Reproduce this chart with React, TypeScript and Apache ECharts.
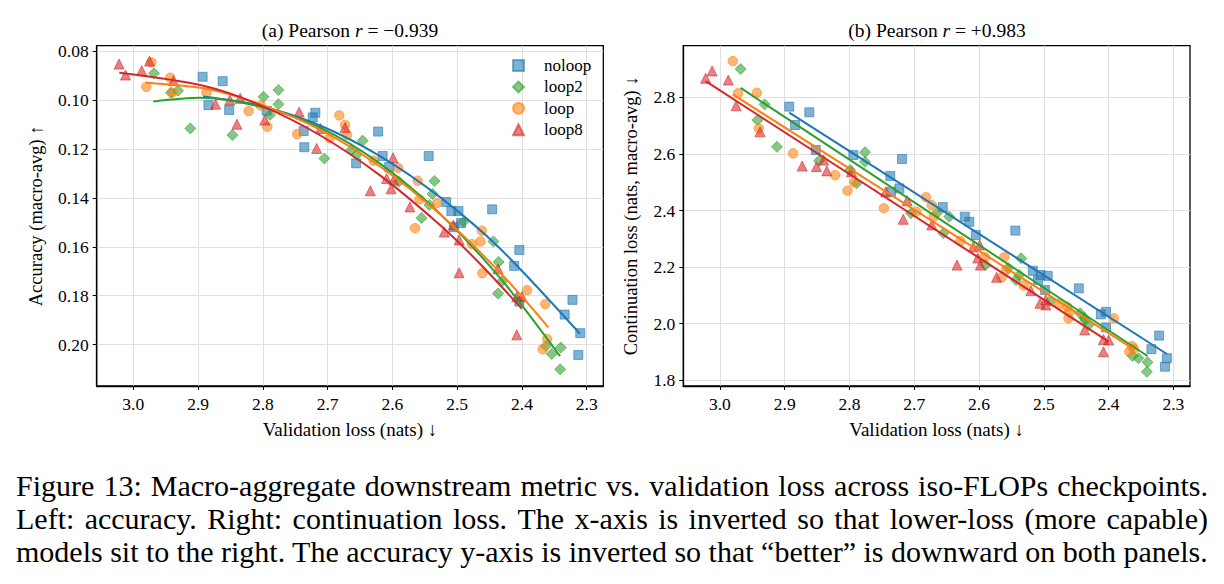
import React, { useEffect, useRef } from "react";
import * as echarts from "echarts";

// Axis ticks
const TICKS_VAL = [3.0, 2.9, 2.8, 2.7, 2.6, 2.5, 2.4, 2.3];
const TICKS_ACC = [0.08, 0.1, 0.12, 0.14, 0.16, 0.18, 0.2];
const TICKS_CONT = [1.8, 2.0, 2.2, 2.4, 2.6, 2.8];

// noloop checkpoints: validation loss, macro accuracy, continuation loss
const NOLOOP_VAL = [2.893, 2.862, 2.884, 2.852, 2.794, 2.719, 2.723, 2.737, 2.736, 2.656, 2.622, 2.615, 2.605, 2.544, 2.517, 2.509, 2.498, 2.505, 2.494, 2.446, 2.404, 2.412, 2.404, 2.322, 2.334, 2.31, 2.313];
const NOLOOP_ACC = [0.0905, 0.0923, 0.1021, 0.1041, 0.1044, 0.1052, 0.1071, 0.1127, 0.1193, 0.1259, 0.1129, 0.1229, 0.1274, 0.1229, 0.1417, 0.1454, 0.1454, 0.152, 0.1503, 0.1447, 0.1613, 0.1678, 0.1824, 0.1817, 0.1877, 0.1953, 0.2042];
const NOLOOP_CONT = [2.767, 2.747, 2.702, 2.614, 2.596, 2.582, 2.478, 2.522, 2.466, 2.412, 2.378, 2.36, 2.313, 2.329, 2.187, 2.154, 2.119, 2.172, 2.169, 2.125, 2.042, 2.033, 1.987, 1.958, 1.91, 1.878, 1.848];

// loop2 checkpoints
const LOOP2_VAL = [2.968, 2.931, 2.942, 2.912, 2.847, 2.799, 2.776, 2.776, 2.789, 2.705, 2.664, 2.655, 2.646, 2.59, 2.535, 2.538, 2.543, 2.555, 2.49, 2.444, 2.436, 2.431, 2.437, 2.363, 2.354, 2.34, 2.341];
const LOOP2_ACC = [0.0891, 0.0962, 0.097, 0.1116, 0.1143, 0.0987, 0.0959, 0.1017, 0.1061, 0.1239, 0.1206, 0.1223, 0.1166, 0.1334, 0.1331, 0.1384, 0.1429, 0.1482, 0.1497, 0.1578, 0.1662, 0.1742, 0.1791, 0.2005, 0.2038, 0.2012, 0.2101];
const LOOP2_CONT = [2.9, 2.775, 2.72, 2.625, 2.576, 2.543, 2.606, 2.572, 2.496, 2.39, 2.393, 2.32, 2.378, 2.207, 2.231, 2.172, 2.154, 2.197, 2.081, 2.037, 2.013, 1.995, 2.02, 1.886, 1.878, 1.864, 1.83];

// loop checkpoints
const LOOP_VAL = [2.972, 2.98, 2.943, 2.94, 2.887, 2.822, 2.803, 2.793, 2.747, 2.697, 2.682, 2.673, 2.67, 2.629, 2.591, 2.561, 2.558, 2.565, 2.531, 2.477, 2.464, 2.462, 2.461, 2.392, 2.364, 2.361, 2.368];
const LOOP_ACC = [0.0846, 0.0946, 0.0909, 0.097, 0.097, 0.1045, 0.1023, 0.1109, 0.1139, 0.1156, 0.1063, 0.1102, 0.1143, 0.1248, 0.1277, 0.133, 0.1406, 0.1524, 0.1422, 0.1589, 0.1578, 0.1534, 0.1708, 0.1777, 0.1834, 0.1977, 0.2019];
const LOOP_CONT = [2.814, 2.928, 2.816, 2.69, 2.602, 2.525, 2.47, 2.5, 2.408, 2.396, 2.447, 2.419, 2.378, 2.292, 2.235, 2.235, 2.19, 2.164, 2.135, 2.07, 2.06, 2.019, 2.041, 2.019, 1.921, 1.911, 1.901];

// loop8 checkpoints
const LOOP8_VAL = [3.022, 3.012, 2.987, 2.975, 2.938, 2.873, 2.851, 2.835, 2.84, 2.797, 2.744, 2.711, 2.717, 2.673, 2.634, 2.609, 2.599, 2.598, 2.602, 2.573, 2.506, 2.52, 2.497, 2.497, 2.437, 2.408, 2.4, 2.408];
const LOOP8_ACC = [0.0853, 0.0898, 0.088, 0.0841, 0.0921, 0.1017, 0.1, 0.0993, 0.1099, 0.1082, 0.1049, 0.1116, 0.1198, 0.1112, 0.1371, 0.1321, 0.1236, 0.1327, 0.1363, 0.1437, 0.1511, 0.154, 0.1572, 0.1706, 0.169, 0.1804, 0.1804, 0.196];
const LOOP8_CONT = [2.867, 2.893, 2.861, 2.77, 2.678, 2.557, 2.555, 2.54, 2.578, 2.537, 2.466, 2.435, 2.369, 2.349, 2.207, 2.271, 2.278, 2.207, 2.232, 2.164, 2.072, 2.117, 2.066, 2.084, 1.978, 1.944, 1.942, 1.901];

// Quadratic trend curves for accuracy, sampled along each curve
const NOLOOP_ACC_FIT = [[2.8924, 0.0986], [2.8044, 0.1023], [2.7117, 0.1104], [2.6191, 0.1229], [2.5265, 0.1397], [2.4339, 0.1607], [2.3103, 0.1956]];
const LOOP2_ACC_FIT = [[2.9691, 0.1006], [2.897, 0.0991], [2.8044, 0.1027], [2.7117, 0.1113], [2.6191, 0.126], [2.5265, 0.1465], [2.4339, 0.1727], [2.3412, 0.2047]];
const LOOP_ACC_FIT = [[2.9804, 0.0929], [2.8867, 0.0954], [2.8044, 0.1017], [2.7117, 0.1121], [2.6191, 0.1272], [2.5265, 0.1467], [2.4339, 0.1705], [2.3593, 0.1929]];
const LOOP8_ACC_FIT = [[3.0216, 0.0889], [2.8919, 0.0942], [2.8044, 0.1021], [2.7117, 0.1144], [2.6191, 0.1308], [2.5265, 0.1511], [2.4648, 0.1669], [2.4003, 0.1853]];

// Linear trend lines for continuation loss (end points)
const NOLOOP_CONT_FIT = [[2.893, 2.746], [2.31, 1.893]];
const LOOP2_CONT_FIT = [[2.968, 2.833], [2.34, 1.886]];
const LOOP_CONT_FIT = [[2.98, 2.81], [2.361, 1.91]];
const LOOP8_CONT_FIT = [[3.022, 2.857], [2.4, 1.937]];

const NAMES = ["noloop", "loop2", "loop", "loop8"];
const COLORS = ["#1f77b4", "#2ca02c", "#ff7f0e", "#d62728"];
const FILLS = ["rgba(31,119,180,0.72)", "rgba(44,160,44,0.72)", "rgba(255,127,14,0.72)", "rgba(214,39,40,0.72)"];
const SYMBOLS = ["rect", "diamond", "circle", "triangle"];
const SIZES = [9, 11, 9.5, 10];

const TITLE_A = "(a) Pearson {i|r} = \u22120.939";
const TITLE_B = "(b) Pearson {i|r} = +0.983";
const CAPTION = [
  "Figure 13: Macro-aggregate downstream metric vs. validation loss across iso-FLOPs checkpoints.",
  "Left: accuracy. Right: continuation loss. The x-axis is inverted so that lower-loss (more capable)",
  "models sit to the right. The accuracy y-axis is inverted so that \u201cbetter\u201d is downward on both panels.",
];

const FONT = "Liberation Serif";
const CAPTION_SIZE = 30;

const zip = (xs: number[], ys: number[]) => xs.map((x, i) => [x, ys[i]]);

// Lays out one caption line word by word so that it fills the given width.
function captionLine(line: string, x0: number, width: number, y: number, justify: boolean) {
  const font = `${CAPTION_SIZE}px 'Liberation Serif'`;
  const words = line.split(" ");
  const ctx = document.createElement("canvas").getContext("2d");
  const style = { fontFamily: FONT, fontSize: CAPTION_SIZE, fill: "#000", verticalAlign: "middle" as const };
  if (!ctx || !justify) {
    return [{ type: "text", x: x0, y, style: { ...style, text: line } }];
  }
  ctx.font = font;
  const widths = words.map((w) => ctx.measureText(w).width);
  const total = widths.reduce((a, b) => a + b, 0);
  const gap = (width - total) / (words.length - 1);
  let x = x0;
  return words.map((w, i) => {
    const el = { type: "text", x, y, style: { ...style, text: w } };
    x += widths[i] + gap;
    return el;
  });
}

export default function App() {
  const ref = useRef<HTMLDivElement>(null);

  useEffect(() => {
    if (!ref.current) return;
    const chart = echarts.init(ref.current, undefined, { renderer: "svg" });

    const vals = [NOLOOP_VAL, LOOP2_VAL, LOOP_VAL, LOOP8_VAL];
    const accs = [NOLOOP_ACC, LOOP2_ACC, LOOP_ACC, LOOP8_ACC];
    const conts = [NOLOOP_CONT, LOOP2_CONT, LOOP_CONT, LOOP8_CONT];
    const accFits = [NOLOOP_ACC_FIT, LOOP2_ACC_FIT, LOOP_ACC_FIT, LOOP8_ACC_FIT];
    const contFits = [NOLOOP_CONT_FIT, LOOP2_CONT_FIT, LOOP_CONT_FIT, LOOP8_CONT_FIT];

    const series: any[] = [];
    NAMES.forEach((name, k) => {
      const marker = {
        type: "scatter",
        name,
        symbol: SYMBOLS[k],
        symbolSize: SIZES[k],
        itemStyle: { color: FILLS[k], borderColor: FILLS[k], borderWidth: 1 },
        emphasis: { disabled: true },
      };
      const fitLine = {
        type: "line",
        name: name + " fit",
        symbol: "none",
        lineStyle: { color: COLORS[k], width: 2 },
        itemStyle: { color: COLORS[k] },
        emphasis: { disabled: true },
        z: 3,
      };
      series.push({ ...marker, xAxisIndex: 0, yAxisIndex: 0, data: zip(vals[k], accs[k]) });
      series.push({ ...fitLine, xAxisIndex: 0, yAxisIndex: 0, smooth: 0.3, data: accFits[k] });
      series.push({ ...marker, xAxisIndex: 1, yAxisIndex: 1, data: zip(vals[k], conts[k]) });
      series.push({ ...fitLine, xAxisIndex: 1, yAxisIndex: 1, data: contFits[k] });
    });

    const tickText = { color: "#000", fontFamily: FONT, fontSize: 17.5 };
    const nameText = { color: "#000", fontFamily: FONT, fontSize: 19 };
    const yNameText = { color: "#000", fontFamily: FONT, fontSize: 18.5 };
    const frame = { show: true, lineStyle: { color: "#000", width: 1.3 } };
    const tick = (values: number[]) => ({
      show: true,
      customValues: values,
      length: 4,
      lineStyle: { color: "#000", width: 1 },
    });
    const split = { show: true, lineStyle: { color: "#e0e0e0", width: 1 } };

    const xAxis = (gridIndex: number) => ({
      gridIndex,
      type: "value",
      inverse: true,
      min: 2.2744,
      max: 3.0565,
      axisLine: { ...frame, onZero: false },
      axisTick: tick(TICKS_VAL),
      axisLabel: { ...tickText, customValues: TICKS_VAL, margin: 9, formatter: (v: number) => v.toFixed(1) },
      splitLine: split,
      name: "Validation loss (nats) \u2193",
      nameLocation: "middle",
      nameGap: 34,
      nameTextStyle: nameText,
    });

    const titleStyle = (text: string) => ({
      text,
      rich: { i: { fontStyle: "italic", fontFamily: FONT, fontSize: 19.5, fill: "#000" } },
      fontFamily: FONT,
      fontSize: 19.5,
      fill: "#000",
      align: "center",
      verticalAlign: "middle",
    });

    const caption = [
      ...captionLine(CAPTION[0], 16, 1192, 485, true),
      ...captionLine(CAPTION[1], 16, 1192, 518, true),
      ...captionLine(CAPTION[2], 16, 1197, 551, false),
    ];

    const option: any = {
      animation: false,
      backgroundColor: "#fff",
      grid: [
        { left: 96.7, top: 45.7, width: 506.6, height: 340.3, show: true, borderColor: "#000", borderWidth: 1.3, backgroundColor: "transparent" },
        { left: 683.3, top: 45.7, width: 506.7, height: 340.3, show: true, borderColor: "#000", borderWidth: 1.3, backgroundColor: "transparent" },
      ],
      xAxis: [xAxis(0), xAxis(1)],
      yAxis: [
        {
          gridIndex: 0,
          type: "value",
          inverse: true,
          min: 0.0778,
          max: 0.2169,
          axisLine: { ...frame, onZero: false },
          axisTick: tick(TICKS_ACC),
          axisLabel: { ...tickText, customValues: TICKS_ACC, margin: 8, formatter: (v: number) => v.toFixed(2) },
          splitLine: split,
          name: "Accuracy (macro-avg) \u2191",
          nameLocation: "middle",
          nameGap: 51.5,
          nameTextStyle: yNameText,
        },
        {
          gridIndex: 1,
          type: "value",
          min: 1.7799,
          max: 2.9823,
          axisLine: { ...frame, onZero: false },
          axisTick: tick(TICKS_CONT),
          axisLabel: { ...tickText, customValues: TICKS_CONT, margin: 8, formatter: (v: number) => v.toFixed(1) },
          splitLine: split,
          name: "Continuation loss (nats, macro-avg) \u2193",
          nameLocation: "middle",
          nameGap: 42.5,
          nameTextStyle: yNameText,
        },
      ],
      legend: {
        data: NAMES.map((n, k) => ({ name: n, icon: SYMBOLS[k] })),
        orient: "vertical",
        left: 512,
        top: 57,
        padding: 0,
        itemWidth: 11,
        itemHeight: 11,
        itemGap: 4.4,
        selectedMode: false,
        textStyle: { color: "#000", fontFamily: FONT, fontSize: 17, lineHeight: 14, padding: [0, 0, 0, 15] },
      },
      graphic: [
        { type: "text", x: 350, y: 30, style: titleStyle(TITLE_A) },
        { type: "text", x: 937, y: 30, style: titleStyle(TITLE_B) },
        ...caption,
      ],
      series,
    };

    chart.setOption(option);
    return () => chart.dispose();
  }, []);

  return (
    <div
      ref={ref}
      style={{ position: "absolute", left: 0, top: 0, width: 1224, height: 584, background: "#fff" }}
    />
  );
}
